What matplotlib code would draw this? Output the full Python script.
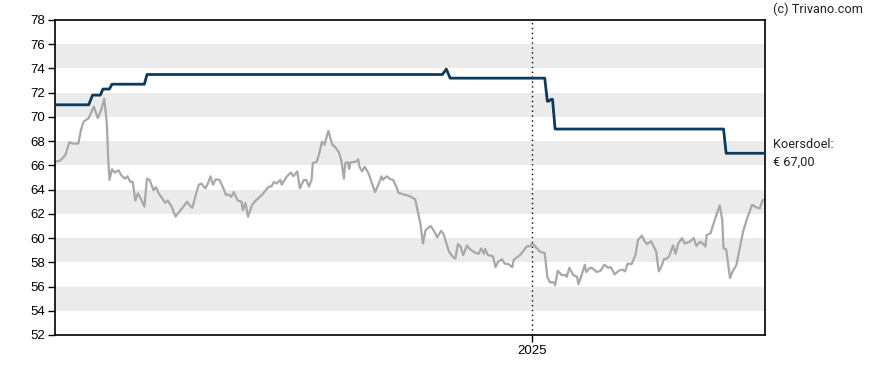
import matplotlib
matplotlib.use("Agg")
import matplotlib.pyplot as plt
import numpy as np
import pandas as pd

# ---- data ----
start_date = "2023-12-30"
end_days = 548
year_tick_label = "2025"
year_tick_date = "2025-01-01"

price_days = [0, 4, 8, 11, 14, 18, 20, 22, 26, 30, 33, 36, 38, 40, 41, 42, 44, 46, 49, 51,
              54, 56, 58, 60, 62, 64, 66, 69, 71, 73, 76, 78, 80, 82, 85, 87, 90, 93, 98, 102,
              104, 106, 109, 111, 113, 116, 118, 120, 122, 124, 127, 130, 132, 134, 136, 138, 141, 144, 145, 147,
              149, 152, 154, 160, 165, 167, 169, 171, 174, 175, 179, 182, 184, 187, 189, 192, 194, 196, 198, 199,
              202, 204, 206, 208, 211, 214, 216, 219, 221, 223, 224, 226, 227, 228, 232, 234, 235, 237, 239, 242,
              245, 247, 250, 252, 253, 256, 259, 261, 264, 265, 269, 271, 274, 278, 282, 284, 286, 290, 293, 295,
              298, 300, 304, 307, 309, 311, 313, 315, 318, 320, 324, 327, 329, 331, 332, 334, 338, 340, 342, 345,
              347, 350, 353, 354, 359, 364, 367, 368, 370, 374, 378, 380, 382, 385, 386, 388, 391, 394, 395, 397,
              400, 403, 404, 406, 409, 410, 413, 415, 418, 421, 424, 427, 429, 432, 435, 438, 440, 442, 445, 448,
              450, 453, 455, 457, 460, 464, 466, 468, 470, 472, 474, 477, 479, 481, 484, 486, 490, 493, 495, 498,
              500, 502, 503, 506, 508, 511, 513, 515, 516, 518, 521, 523, 526, 528, 531, 534, 538, 541, 544, 546,
              548]
price_values = [66.3, 66.4, 66.85, 67.9, 67.8, 67.8, 68.9, 69.6, 69.9, 70.85, 69.9, 70.7, 71.5, 69.5, 66.7, 64.8, 65.7, 65.4, 65.6, 65.2,
                64.9, 65.1, 64.65, 64.65, 63.1, 63.7, 63.3, 62.6, 64.9, 64.8, 63.95, 64.2, 63.7, 63.4, 62.9, 63.1, 62.6, 61.77, 62.45, 63.0,
                62.7, 62.5, 63.7, 64.4, 64.5, 64.1, 64.5, 65.1, 64.4, 64.85, 64.8, 64.1, 63.55, 63.6, 63.4, 63.8, 63.1, 63.0, 62.3, 62.9,
                61.76, 62.7, 63.0, 63.6, 64.25, 64.25, 64.65, 64.5, 64.8, 64.4, 65.1, 65.4, 65.1, 65.5, 64.1, 64.8, 64.8, 64.25, 64.8, 66.2,
                66.3, 67.0, 67.95, 67.7, 68.85, 67.7, 67.55, 67.1, 66.4, 64.9, 66.2, 66.25, 65.7, 66.25, 66.3, 66.5, 65.9, 65.5, 65.9, 65.35,
                64.4, 63.8, 64.5, 65.1, 64.8, 65.1, 64.85, 64.8, 64.1, 63.75, 63.6, 63.55, 63.45, 63.2, 61.2, 59.55, 60.65, 61.0, 60.5, 60.05,
                60.6, 60.3, 58.9, 58.45, 58.3, 59.5, 59.3, 58.6, 59.4, 59.1, 58.8, 58.7, 59.15, 58.7, 59.1, 58.6, 58.5, 57.6, 58.05, 58.25,
                57.9, 57.85, 57.6, 58.2, 58.6, 59.3, 59.35, 59.55, 59.4, 58.9, 58.75, 56.8, 56.35, 56.35, 56.1, 57.3, 56.95, 56.95, 56.8, 57.55,
                56.95, 56.8, 56.2, 56.8, 57.8, 57.2, 57.55, 57.5, 57.2, 57.3, 57.8, 57.55, 57.6, 57.0, 57.3, 57.4, 57.25, 57.9, 57.85, 58.6,
                59.85, 60.2, 59.75, 59.5, 59.75, 58.9, 57.25, 57.65, 58.25, 58.3, 58.5, 59.4, 58.7, 59.55, 60.0, 59.55, 59.7, 60.0, 59.35, 59.7,
                59.55, 59.3, 60.25, 60.4, 61.1, 62.05, 62.7, 61.5, 59.15, 59.1, 56.7, 57.25, 57.8, 58.9, 60.5, 61.55, 62.75, 62.55, 62.45, 63.1,
                63.2]

target_days = [0, 26, 29, 35, 37, 42, 44, 69, 71, 299, 302, 305, 378, 380, 381, 383, 384, 386, 516, 518, 548]
target_values = [71.0, 71.0, 71.8, 71.8, 72.3, 72.3, 72.7, 72.7, 73.5, 73.5, 73.95, 73.2, 73.2, 71.3, 71.3, 71.45, 71.45, 69.0, 69.0, 67.0, 67.0]

y_ticks = list(range(52, 79, 2))
band_ranges = [(54, 56), (58, 60), (62, 64), (66, 68), (70, 72), (74, 76)]
target_label = "Koersdoel:\n€ 67,00"
credit = "(c) Trivano.com"

# ---- plot ----
start = pd.Timestamp(start_date)
px = start + pd.to_timedelta(price_days, unit="D")
tx = start + pd.to_timedelta(target_days, unit="D")
end = start + pd.Timedelta(days=end_days)
ytick_dt = pd.Timestamp(year_tick_date)

fig = plt.figure(figsize=(8.88, 3.70), dpi=100)
ax = fig.add_axes([55 / 888, 35 / 370, 710 / 888, 315 / 370])

for lo, hi in band_ranges:
    ax.axhspan(lo, hi, color="#ebebeb", lw=0, zorder=0)

ax.axvline(ytick_dt, color="black", lw=1, ls=(0, (1, 2.5)), zorder=1)

ax.plot(px, price_values, color="#a8a8a8", lw=1.6, zorder=2, solid_joinstyle="round")
ax.plot(tx, target_values, color="#0f3a5b", lw=2.0, zorder=3)

ax.set_xlim(start, end)
ax.set_ylim(52, 78)
ax.set_yticks(y_ticks)
ax.set_yticklabels([str(v) for v in y_ticks], fontsize=9.5, family="Liberation Sans")
ax.set_xticks([ytick_dt])
ax.set_xticklabels([year_tick_label], fontsize=9.5, family="Liberation Sans")
ax.tick_params(axis="both", length=5, width=1, color="black", pad=2)

for s in ax.spines.values():
    s.set_color("black")
    s.set_linewidth(1.2)

ax.text(1.011, 67.0, target_label, transform=ax.get_yaxis_transform(),
        ha="left", va="center", fontsize=9.2, family="Roboto", color="#222222",
        linespacing=1.55)
fig.text(773 / 888, 1 - 9 / 370, credit, ha="left", va="center",
         fontsize=9.2, family="Roboto", color="#222222")

fig.savefig("out.png", dpi=100)
